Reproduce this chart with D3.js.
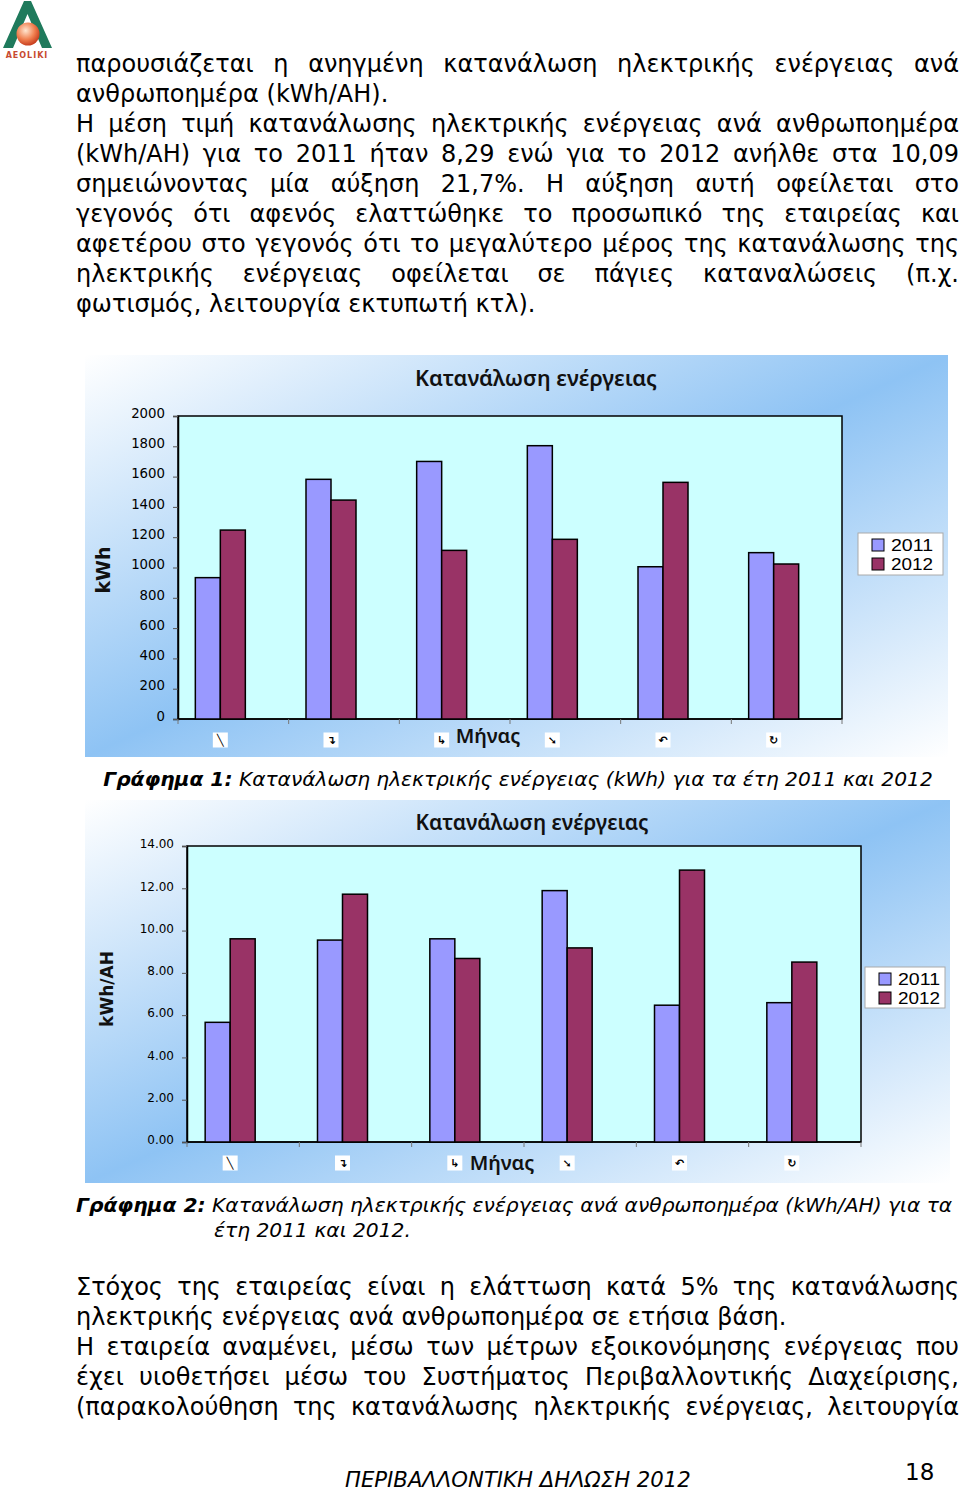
<!DOCTYPE html>
<html><head><meta charset="utf-8">
<script src="https://cdn.jsdelivr.net/npm/d3@7"></script>
<style>
html,body{margin:0;padding:0;background:#fff;}
svg{display:block;}
</style></head>
<body>
<svg id="page" width="960" height="1491"></svg>
<script>
// ---------------- DATA ----------------
const months = ["Ιανουάριος","Φεβρουάριος","Μάρτιος","Απρίλιος","Μάιος","Ιούνιος"];
const monthGlyphs = ["╲","↴","↳","➘","↶","↻"];
const seriesNames = ["2011","2012"];
const kwh2011 = [933, 1582, 1700, 1804, 1005, 1098];
const kwh2012 = [1247, 1445, 1113, 1186, 1562, 1023];
const kwhTicks = [0,200,400,600,800,1000,1200,1400,1600,1800,2000];
const perAH2011 = [5.66, 9.55, 9.61, 11.89, 6.47, 6.59];
const perAH2012 = [9.61, 11.72, 8.68, 9.18, 12.86, 8.51];
const perAHTicks = [0,2,4,6,8,10,12,14];
const chartTitle = "Κατανάλωση ενέργειας";
const xAxisTitle = "Μήνας";

const bodyTop = [
  ["παρουσιάζεται η ανηγμένη κατανάλωση ηλεκτρικής ενέργειας ανά", true],
  ["ανθρωποημέρα (kWh/AH).", false],
  ["Η μέση τιμή κατανάλωσης ηλεκτρικής ενέργειας ανά ανθρωποημέρα", true],
  ["(kWh/AH) για το 2011 ήταν 8,29 ενώ για το 2012 ανήλθε στα 10,09", true],
  ["σημειώνοντας μία αύξηση 21,7%. Η αύξηση αυτή οφείλεται στο", true],
  ["γεγονός ότι αφενός ελαττώθηκε το προσωπικό της εταιρείας και", true],
  ["αφετέρου στο γεγονός ότι το μεγαλύτερο μέρος της κατανάλωσης της", true],
  ["ηλεκτρικής ενέργειας οφείλεται σε πάγιες καταναλώσεις (π.χ.", true],
  ["φωτισμός, λειτουργία εκτυπωτή κτλ).", false]
];
const bodyBottom = [
  ["Στόχος της εταιρείας είναι η ελάττωση κατά 5% της κατανάλωσης", true],
  ["ηλεκτρικής ενέργειας ανά ανθρωποημέρα σε ετήσια βάση.", false],
  ["Η εταιρεία αναμένει, μέσω των μέτρων εξοικονόμησης ενέργειας που", true],
  ["έχει υιοθετήσει μέσω του Συστήματος Περιβαλλοντικής Διαχείρισης,", true],
  ["(παρακολούθηση της κατανάλωσης ηλεκτρικής ενέργειας, λειτουργία", true]
];

// ---------------- PAGE ----------------
const svg = d3.select("#page");
const BODY_FONT = "'DejaVu Sans', Verdana, sans-serif";
const CHART_FONT = "'DejaVu Sans', Tahoma, sans-serif";
const TITLE_FONT = "'Noto Sans', 'Open Sans', sans-serif";
const defs = svg.append("defs");

// background gradient (Excel diagonal)
const grad = defs.append("linearGradient").attr("id","bgGrad")
  .attr("x1",0).attr("y1",0).attr("x2",1).attr("y2",1);
grad.append("stop").attr("offset","0%").attr("stop-color","#ffffff");
grad.append("stop").attr("offset","50%").attr("stop-color","#8ec3f4");
grad.append("stop").attr("offset","100%").attr("stop-color","#ffffff");

const ball = defs.append("radialGradient").attr("id","ballGrad")
  .attr("cx","40%").attr("cy","35%").attr("r","65%");
ball.append("stop").attr("offset","0%").attr("stop-color","#ffe6d0");
ball.append("stop").attr("offset","60%").attr("stop-color","#f08050");
ball.append("stop").attr("offset","100%").attr("stop-color","#c84020");

// logo
const logo = svg.append("g");
logo.append("path").attr("d","M3,48 L24,1 L31,1 L52,48 L42,48 L27.5,14 L13,48 Z").attr("fill","#1f7a5c");
logo.append("circle").attr("cx",28).attr("cy",34).attr("r",11.5).attr("fill","url(#ballGrad)");
logo.append("text").attr("x",27).attr("y",58).attr("text-anchor","middle")
  .style("font-family","'DejaVu Sans', sans-serif").style("font-size","8px").style("font-weight","bold")
  .attr("fill","#c84a30").attr("letter-spacing",1).text("AEOLIKI");

function textLine(g, str, x, y, width, justify, size) {
  const t = g.append("text").attr("y", y)
    .style("font-family", BODY_FONT).style("font-size", size + "px").attr("fill","#000");
  if (!justify) { t.attr("x", x).text(str); return; }
  const words = str.split(" ");
  const spans = words.map(w => t.append("tspan").text(w));
  let lens = spans.map(s => s.node().getComputedTextLength());
  let sum = d3.sum(lens);
  const minGap = size * 0.3;
  if (sum + minGap * (words.length - 1) > width) {
    const k = (width - minGap * (words.length - 1)) / sum;
    spans.forEach((s, i) => s.attr("textLength", lens[i] * k).attr("lengthAdjust", "spacingAndGlyphs"));
    lens = lens.map(l => l * k); sum = d3.sum(lens);
  }
  const gap = (width - sum) / (words.length - 1);
  let cx = x;
  spans.forEach((s, i) => { s.attr("x", cx); cx += lens[i] + gap; });
}

const BODY_X = 76, BODY_W = 883, BODY_SIZE = 24, LINE_H = 30;
const gText = svg.append("g");
bodyTop.forEach((l, i) => textLine(gText, l[0], BODY_X, 72 + i * LINE_H, BODY_W, l[1], BODY_SIZE));
bodyBottom.forEach((l, i) => textLine(gText, l[0], BODY_X, 1295 + i * LINE_H, BODY_W, l[1], BODY_SIZE));

// captions
const CAP_SIZE = 20.2;
const cap1 = svg.append("text").attr("x", 518).attr("y", 786).attr("text-anchor","middle")
  .style("font-family", BODY_FONT).style("font-size", CAP_SIZE + "px").style("font-style","italic");
cap1.append("tspan").style("font-weight","bold").text("Γράφημα 1:");
cap1.append("tspan").text(" Κατανάλωση ηλεκτρικής ενέργειας (kWh) για τα έτη 2011 και 2012");
const CAP2_SIZE = 20.25;
const cap2 = svg.append("text").attr("x", 76).attr("y", 1212)
  .style("font-family", BODY_FONT).style("font-size", CAP2_SIZE + "px").style("font-style","italic");
cap2.append("tspan").style("font-weight","bold").text("Γράφημα 2:");
cap2.append("tspan").text(" Κατανάλωση ηλεκτρικής ενέργειας ανά ανθρωποημέρα (kWh/AH) για τα");
svg.append("text").attr("x", 214).attr("y", 1237)
  .style("font-family", BODY_FONT).style("font-size", CAP2_SIZE + "px").style("font-style","italic")
  .text("έτη 2011 και 2012.");

// footer
svg.append("text").attr("x", 345).attr("y", 1487)
  .style("font-family", "'DejaVu Sans', Tahoma, sans-serif").style("font-size","21.2px").style("font-style","italic")
  .text("ΠΕΡΙΒΑΛΛΟΝΤΙΚΗ ΔΗΛΩΣΗ 2012");
svg.append("text").attr("x", 905).attr("y", 1480)
  .style("font-family", "'DejaVu Sans', Tahoma, sans-serif").style("font-size","23px")
  .text("18");

// ---------------- CHARTS ----------------
function drawChart(cfg) {
  const g = svg.append("g");
  g.append("rect").attr("x", cfg.bg.x).attr("y", cfg.bg.y).attr("width", cfg.bg.w).attr("height", cfg.bg.h)
    .attr("fill", "url(#bgGrad)");
  const p = cfg.plot;
  g.append("rect").attr("x", p.l).attr("y", p.t).attr("width", p.r - p.l).attr("height", p.b - p.t)
    .attr("fill", "#ccffff").attr("stroke", "#000").attr("stroke-width", 1.5);

  const x = d3.scaleBand().domain(months).range([p.l, p.r]);
  const y = d3.scaleLinear().domain([0, d3.max(cfg.ticks)]).range([p.b, p.t]);
  const colors = d3.scaleOrdinal().domain(seriesNames).range(["#9999ff", "#993366"]);

  // y axis
  const yAxis = d3.axisLeft(y).tickValues(cfg.ticks).tickFormat(cfg.fmt).tickSize(5).tickPadding(8);
  const ya = g.append("g").attr("transform", `translate(${p.l},0)`).call(yAxis);
  ya.select(".domain").attr("stroke", "#000").attr("stroke-width", 1.5);
  ya.selectAll(".tick line").attr("stroke", "#555");
  ya.selectAll(".tick text").style("font-family", CHART_FONT).style("font-size", cfg.tickSize + "px")
    .attr("fill", "#000").attr("y", cfg.tickDy);

  // x axis (ticks at category boundaries)
  const xa = g.append("g").attr("transform", `translate(0,${p.b})`);
  xa.append("line").attr("x1", p.l).attr("x2", p.r).attr("stroke", "#000").attr("stroke-width", 1.5);
  xa.selectAll("line.tk").data(months.concat(["__end"])).join("line").attr("class","tk")
    .attr("x1", (d, i) => i < months.length ? x(d) : p.r)
    .attr("x2", (d, i) => i < months.length ? x(d) : p.r)
    .attr("y1", 0).attr("y2", 5).attr("stroke", "#777");

  // bars
  const sub = d3.scaleBand().domain(seriesNames).range([0, cfg.barW * 2]);
  const groups = g.selectAll("g.grp").data(months).join("g").attr("class","grp")
    .attr("transform", d => `translate(${x(d) + x.bandwidth() / 2 + cfg.shift - cfg.barW},0)`);
  groups.selectAll("rect").data((d, i) => seriesNames.map((s, k) => ({ s, v: cfg.series[k][i] })))
    .join("rect")
    .attr("x", d => sub(d.s)).attr("width", sub.bandwidth())
    .attr("y", d => y(d.v)).attr("height", d => y(0) - y(d.v))
    .attr("fill", d => colors(d.s)).attr("stroke", "#000").attr("stroke-width", 1.5);

  // month glyph labels
  const lab = g.selectAll("g.lab").data(months).join("g").attr("class","lab")
    .attr("transform", d => `translate(${x(d) + x.bandwidth() / 2 + cfg.shift},${cfg.glyphY})`);
  lab.append("rect").attr("x", -7.5).attr("y", -7.5).attr("width", 15).attr("height", 15).attr("fill", "#fff");
  lab.append("text").attr("text-anchor", "middle").attr("dy", "0.35em")
    .style("font-family", "'DejaVu Sans', sans-serif").style("font-size", "11px").style("font-weight","bold")
    .text((d, i) => monthGlyphs[i]);

  // titles
  g.append("text").attr("x", cfg.titleX).attr("y", cfg.titleY).attr("text-anchor", "middle")
    .style("font-family", TITLE_FONT).style("font-size", cfg.titleSize + "px").style("font-weight", "600")
    .attr("fill", "#111").text(chartTitle);
  g.append("text").attr("x", cfg.xTitleX).attr("y", cfg.xTitleY).attr("text-anchor", "middle")
    .style("font-family", TITLE_FONT).style("font-size", "20px").style("font-weight", "600")
    .attr("fill", "#111").text(xAxisTitle);
  g.append("text").attr("transform", `translate(${cfg.yTitleX},${cfg.yTitleY}) rotate(-90)`)
    .attr("text-anchor", "middle").attr("dy", "0.35em")
    .style("font-family", "'DejaVu Sans', sans-serif").style("font-size", cfg.yTitleSize + "px").style("font-weight", "bold")
    .attr("fill", "#111").text(cfg.yTitle);

  // legend
  const L = cfg.legend;
  const lg = g.append("g").attr("transform", `translate(${L.x},${L.y})`);
  lg.append("rect").attr("width", L.w).attr("height", L.h).attr("fill", "#fff").attr("stroke", "#aaa");
  const li = lg.selectAll("g").data(seriesNames).join("g")
    .attr("transform", (d, i) => `translate(14,${12 + i * 19})`);
  li.append("rect").attr("x", 0).attr("y", -6).attr("width", 12).attr("height", 12)
    .attr("fill", d => colors(d)).attr("stroke", "#000").attr("stroke-width", 1);
  li.append("text").attr("x", 19).attr("dy", "0.36em")
    .style("font-family", "'Liberation Sans', Arial, sans-serif").style("font-size", "17px")
    .attr("textLength", 42).attr("lengthAdjust", "spacingAndGlyphs")
    .attr("fill", "#000").text(d => d);
}

drawChart({
  bg: { x: 85, y: 355, w: 863, h: 402 },
  plot: { l: 178, t: 416, r: 842, b: 719 },
  ticks: kwhTicks, fmt: d3.format("d"), tickSize: 13.3, tickDy: -3,
  series: [kwh2011, kwh2012], barW: 25, shift: -13, glyphY: 740,
  titleX: 536, titleY: 386, titleSize: 21.7, xTitleX: 488, xTitleY: 743,
  yTitle: "kWh", yTitleX: 103, yTitleY: 570, yTitleSize: 19,
  legend: { x: 858, y: 533, w: 85, h: 42 }
});
drawChart({
  bg: { x: 85, y: 800, w: 865, h: 383 },
  plot: { l: 187, t: 846, r: 861, b: 1142 },
  ticks: perAHTicks, fmt: d3.format(".2f"), tickSize: 12, tickDy: -2,
  series: [perAH2011, perAH2012], barW: 25, shift: -13, glyphY: 1163,
  titleX: 532, titleY: 830, titleSize: 20.9, xTitleX: 502, xTitleY: 1170,
  yTitle: "kWh/AH", yTitleX: 107, yTitleY: 989, yTitleSize: 17,
  legend: { x: 865, y: 967, w: 80, h: 41 }
});
</script>
</body></html>
